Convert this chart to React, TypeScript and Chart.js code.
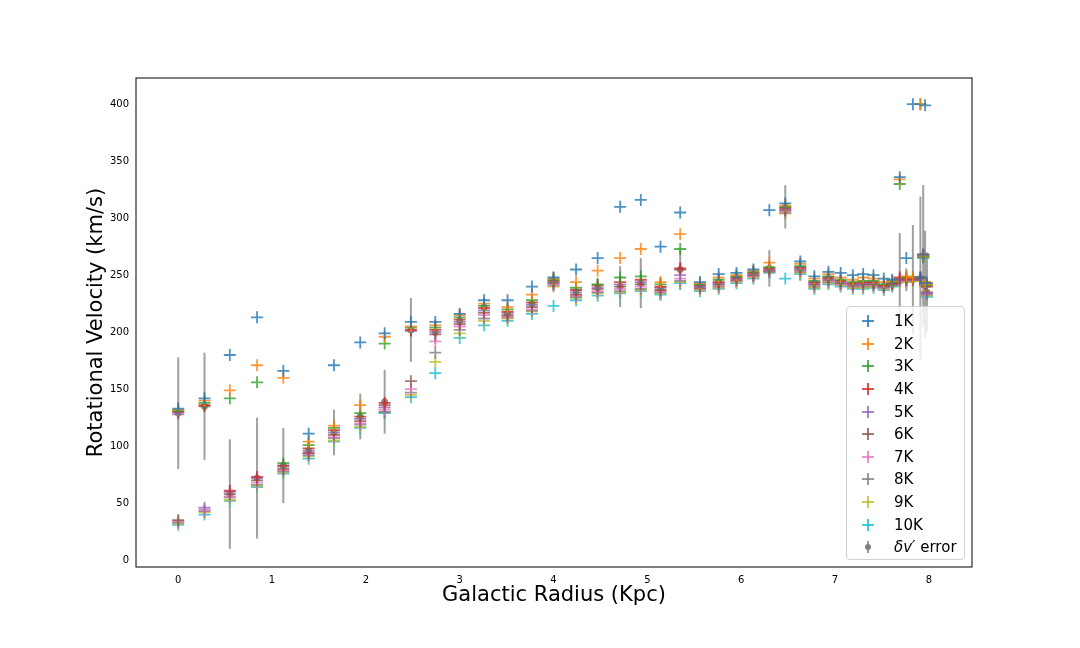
import { useEffect, useRef } from 'react';
import { Chart, registerables } from 'chart.js';

Chart.register(...registerables);

const radius = [0, 0.28, 0.55, 0.84, 1.12, 1.39, 1.66, 1.94, 2.2, 2.48, 2.74, 3.0, 3.26, 3.51, 3.77, 4.0, 4.24, 4.47, 4.71, 4.93, 5.14, 5.35, 5.56, 5.76, 5.95, 6.13, 6.3, 6.47, 6.63, 6.78, 6.93, 7.06, 7.19, 7.3, 7.41, 7.52, 7.61, 7.69, 7.76, 7.83, 7.91, 7.94, 7.96, 7.98];

const v1K = [133, 142, 180, 213, 166, 111, 171, 191, 199, 209, 209, 216, 228, 228, 240, 248, 255, 265, 310, 316, 275, 305, 244, 251, 252, 255, 307, 313, 262, 249, 253, 252, 250, 251, 250, 247, 246, 336, 265, 400, 248, 268, 399, 243];
const v2K = [132, 140, 149, 171, 160, 104, 118, 136, 196, 205, 206, 215, 225, 222, 233, 247, 244, 254, 265, 273, 244, 286, 243, 248, 250, 254, 261, 311, 260, 247, 251, 248, 246, 248, 247, 244, 245, 334, 249, 248, 400, 267, 244, 242];
const v3K = [131, 138, 142, 156, 85, 101, 116, 129, 190, 204, 204, 213, 223, 220, 228, 246, 239, 242, 248, 249, 242, 273, 242, 246, 249, 253, 257, 310, 258, 245, 249, 246, 244, 245, 245, 242, 244, 330, 248, 248, 400, 266, 244, 241];
const v4K = [130, 136, 61, 73, 83, 98, 114, 126, 138, 202, 202, 211, 221, 218, 226, 245, 237, 241, 244, 246, 240, 256, 241, 244, 248, 252, 256, 309, 257, 244, 248, 245, 243, 244, 244, 241, 243, 248, 247, 247, 248, 268, 243, 240];
const v5K = [128, 46, 60, 72, 82, 96, 112, 124, 134, 201, 200, 209, 219, 217, 224, 244, 235, 239, 242, 244, 239, 250, 240, 243, 247, 251, 255, 308, 256, 243, 247, 244, 242, 243, 243, 240, 243, 247, 246, 247, 247, 268, 242, 234];
const v6K = [35, 135, 58, 70, 80, 94, 110, 122, 136, 157, 198, 207, 217, 215, 222, 243, 233, 238, 240, 242, 237, 255, 239, 242, 246, 250, 254, 307, 255, 242, 246, 243, 241, 242, 242, 240, 242, 246, 246, 246, 247, 267, 242, 235];
const v7K = [34, 44, 56, 68, 79, 93, 108, 120, 132, 150, 192, 205, 215, 214, 220, 242, 232, 236, 238, 240, 236, 247, 238, 241, 245, 249, 254, 306, 254, 241, 245, 242, 240, 241, 241, 239, 242, 245, 245, 246, 246, 266, 241, 234];
const v8K = [33, 43, 55, 66, 78, 92, 107, 119, 130, 147, 182, 202, 212, 213, 219, 241, 231, 235, 236, 238, 235, 245, 238, 240, 245, 249, 253, 305, 253, 240, 244, 242, 240, 240, 241, 239, 241, 245, 245, 246, 246, 266, 241, 233];
const v9K = [32, 42, 53, 65, 77, 91, 105, 117, 130, 145, 174, 199, 210, 212, 218, 240, 230, 234, 235, 237, 234, 244, 237, 239, 244, 248, 253, 304, 252, 239, 243, 241, 239, 239, 240, 238, 241, 244, 244, 245, 245, 266, 240, 232];
const v10K = [31, 40, 52, 64, 76, 89, 104, 116, 129, 143, 164, 195, 206, 210, 216, 223, 228, 232, 234, 236, 233, 243, 236, 238, 243, 247, 252, 247, 251, 238, 242, 240, 238, 238, 239, 237, 240, 244, 244, 245, 245, 265, 240, 231];

const errMean = [129, 135, 58, 72, 83, 96, 112, 126, 139, 202, 200, 210, 222, 216, 225, 245, 235, 239, 240, 243, 238, 255, 240, 244, 248, 251, 256, 310, 255, 243, 247, 244, 242, 242, 243, 240, 242, 245, 246, 246, 247, 267, 242, 235];
const errSize = [49, 47, 48, 53, 33, 8, 20, 20, 28, 28, 10, 10, 8, 6, 8, 8, 8, 8, 18, 22, 10, 18, 5, 7, 6, 6, 16, 19, 10, 6, 6, 6, 6, 6, 5, 5, 4, 42, 10, 48, 72, 62, 47, 35];

const seriesLabels = ['1K', '2K', '3K', '4K', '5K', '6K', '7K', '8K', '9K', '10K'];
const seriesValues = [v1K, v2K, v3K, v4K, v5K, v6K, v7K, v8K, v9K, v10K];
const colors = ['#1f77b4', '#ff7f0e', '#2ca02c', '#d62728', '#9467bd', '#8c564b', '#e377c2', '#7f7f7f', '#bcbd22', '#17becf'];

const errorBarPlugin = {
  id: 'errorBars',
  beforeDatasetsDraw(chart: any) {
    const { ctx, scales } = chart;
    ctx.save();
    ctx.strokeStyle = 'rgba(128,128,128,0.75)';
    ctx.lineWidth = 2;
    radius.forEach((r, i) => {
      const x = scales.x.getPixelForValue(r);
      ctx.beginPath();
      ctx.moveTo(x, scales.y.getPixelForValue(errMean[i] - errSize[i]));
      ctx.lineTo(x, scales.y.getPixelForValue(errMean[i] + errSize[i]));
      ctx.stroke();
    });
    ctx.restore();
  },
};

const frame = {
  id: 'frame',
  afterDraw(chart: any) {
    const { ctx, chartArea: a } = chart;
    ctx.save();
    ctx.strokeStyle = '#000';
    ctx.lineWidth = 1;
    ctx.strokeRect(a.left, a.top, a.right - a.left, a.bottom - a.top);
    ctx.restore();
  },
};

function hexA(hex: string, a: number) {
  const n = parseInt(hex.slice(1), 16);
  return `rgba(${n >> 16},${(n >> 8) & 255},${n & 255},${a})`;
}

export default function App() {
  const ref = useRef<HTMLCanvasElement>(null);

  useEffect(() => {
    if (!ref.current) return;
    const datasets: any[] = seriesLabels.map((label, s) => ({
      label,
      data: radius.map((r, i) => ({ x: r, y: seriesValues[s][i] })),
      pointStyle: 'cross',
      pointRadius: 6,
      borderWidth: 1.8,
      borderColor: hexA(colors[s], 0.8),
      backgroundColor: hexA(colors[s], 0.8),
    }));
    datasets.push({
      label: 'error',
      data: radius.map((r, i) => ({ x: r, y: errMean[i] })),
      pointStyle: 'circle',
      pointRadius: 3.5,
      borderWidth: 0,
      backgroundColor: 'rgba(128,128,128,0.9)',
    });
    const chart = new Chart(ref.current, {
      type: 'scatter',
      data: { datasets },
      plugins: [errorBarPlugin, frame],
      options: {
        animation: false,
        responsive: false,
        layout: { padding: { top: 78, right: 108, left: 80, bottom: 36 } },
        plugins: { legend: { display: false }, tooltip: { enabled: false } },
        scales: {
          x: {
            min: -0.45,
            max: 8.46,
            grid: { display: false, drawTicks: true, tickLength: 4, tickColor: '#000' } as any,
            border: { display: false },
            ticks: {
              stepSize: 1,
              color: '#000',
              font: { family: 'DejaVu Sans', size: 10 },
              callback: (v: any) => (Number.isInteger(v) ? String(v) : ''),
            },
            afterBuildTicks: (s: any) => {
              s.ticks = [0, 1, 2, 3, 4, 5, 6, 7, 8].map((v) => ({ value: v }));
            },
            title: { display: true, text: 'Galactic Radius (Kpc)', color: '#000', font: { family: 'DejaVu Sans', size: 21 }, padding: { top: 2 } },
            afterFit: (s: any) => { s.height = 45; },
          },
          y: {
            min: -6,
            max: 423,
            grid: { display: false, drawTicks: true, tickLength: 4, tickColor: '#000' } as any,
            border: { display: false },
            ticks: { stepSize: 50, color: '#000', font: { family: 'DejaVu Sans', size: 10 } },
            afterBuildTicks: (s: any) => {
              s.ticks = [0, 50, 100, 150, 200, 250, 300, 350, 400].map((v) => ({ value: v }));
            },
            title: { display: true, text: 'Rotational Velocity (km/s)', color: '#000', font: { family: 'DejaVu Sans', size: 21 }, padding: { bottom: 4 } },
            afterFit: (s: any) => { s.width = 56; },
          },
        },
      },
    });
    return () => chart.destroy();
  }, []);

  const row = { display: 'flex', alignItems: 'center', height: 22.6 } as const;
  return (
    <div style={{ position: 'absolute', left: 0, top: 0, width: 1080, height: 648, background: '#fff' }}>
      <canvas ref={ref} width={1080} height={648} />
      <div
        style={{
          position: 'absolute', left: 846, top: 306, width: 119, height: 254,
          border: '1px solid #d0d0d0', borderRadius: 4, background: 'rgba(255,255,255,0.8)',
          fontFamily: 'DejaVu Sans', fontSize: 15, padding: '3px 0 0 0', boxSizing: 'border-box',
        }}
      >
        {seriesLabels.map((l, s) => (
          <div key={l} style={row}>
            <span style={{ position: 'relative', width: 12, height: 12, marginLeft: 15, marginRight: 20 }}>
              <span style={{ position: 'absolute', left: 5, top: 0, width: 2, height: 12, background: hexA(colors[s], 0.8) }} />
              <span style={{ position: 'absolute', left: 0, top: 5, width: 12, height: 2, background: hexA(colors[s], 0.8) }} />
            </span>
            <span>{l}</span>
          </div>
        ))}
        <div style={row}>
          <span style={{ position: 'relative', width: 12, height: 12, marginLeft: 15, marginRight: 20 }}>
            <span style={{ position: 'absolute', left: 5, top: 0, width: 2, height: 12, background: 'rgba(128,128,128,0.8)' }} />
            <span style={{ position: 'absolute', left: 3, top: 3, width: 6, height: 6, borderRadius: 3, background: 'gray' }} />
          </span>
          <span><i>δv′</i> error</span>
        </div>
      </div>
    </div>
  );
}
